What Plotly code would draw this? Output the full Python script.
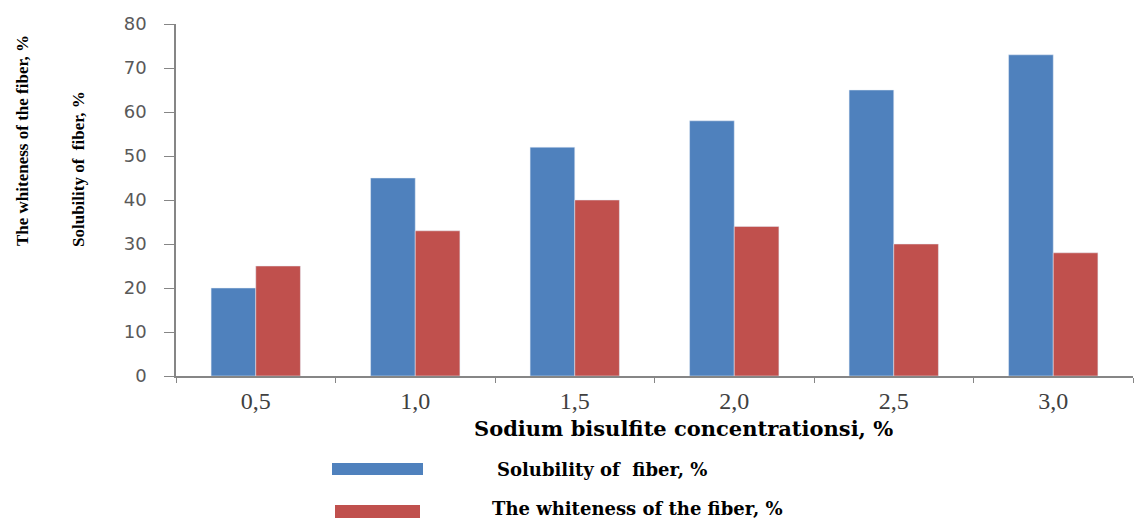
import plotly.graph_objects as go

categories = ["0,5", "1,0", "1,5", "2,0", "2,5", "3,0"]
solubility = [20, 45, 52, 58, 65, 73]
whiteness = [25, 33, 40, 34, 30, 28]
series_names = ["Solubility of  fiber, %", "The whiteness of the fiber, %"]
y_ticks = [0, 10, 20, 30, 40, 50, 60, 70, 80]

# page body has an 8px default margin; compensate
OFF = 8
W, H = 1144 - OFF, 519 - OFF
L, R, T, B = 176 - OFF, 11, 24 - OFF, 143
pw, ph = W - L - R, H - T - B

def px_x(x):
    return (x - OFF - L) / pw

def px_y(y):
    return (H - B - (y - OFF)) / ph

BLUE = "#4F81BD"
RED = "#C0504D"

fig = go.Figure()
fig.add_trace(go.Bar(x=categories, y=solubility, name=series_names[0], marker_color=BLUE))
fig.add_trace(go.Bar(x=categories, y=whiteness, name=series_names[1], marker_color=RED))

fig.update_layout(
    width=W, height=H,
    margin=dict(l=L, r=R, t=T, b=B, autoexpand=False),
    plot_bgcolor="white", paper_bgcolor="white",
    barmode="group", bargap=0.44, bargroupgap=0,
    showlegend=False,
    xaxis=dict(
        showline=True, linecolor="#868686", linewidth=1.5,
        ticks="outside", ticklen=5, tickcolor="#868686", tickson="boundaries",
        ticklabelstandoff=2,
        tickfont=dict(family="Liberation Serif", size=24, color="#404040"),
        showgrid=False,
    ),
    yaxis=dict(
        range=[0, 80], tickvals=y_ticks,
        showline=True, linecolor="#868686", linewidth=1.5,
        ticks="outside", ticklen=10, tickcolor="#868686",
        ticklabelstandoff=14,
        tickfont=dict(family="DejaVu Sans", size=18, color="#595959"),
        showgrid=False, zeroline=False,
    ),
)

annots = [
    dict(text="<b>Sodium bisulfite concentrationsi, %</b>", x=px_x(683), y=px_y(428),
         font=dict(family="DejaVu Serif", size=21, color="black")),
    dict(text="<b>The whiteness of the fiber, %</b>", x=px_x(22), y=px_y(141), textangle=-90,
         font=dict(family="Liberation Serif", size=17, color="black")),
    dict(text="<b>Solubility of  fiber, %</b>", x=px_x(78), y=px_y(169), textangle=-90,
         font=dict(family="Liberation Serif", size=17, color="black")),
    dict(text="<b>" + series_names[0] + "</b>", x=px_x(495), y=px_y(469), xanchor="left",
         font=dict(family="DejaVu Serif", size=18, color="black")),
    dict(text="<b>" + series_names[1] + "</b>", x=px_x(490), y=px_y(508), xanchor="left",
         font=dict(family="DejaVu Serif", size=18, color="black")),
]
for a in annots:
    a.setdefault("xanchor", "center")
    fig.add_annotation(xref="paper", yref="paper", showarrow=False, yanchor="middle", **a)

fig.add_shape(type="rect", xref="paper", yref="paper", x0=px_x(332), x1=px_x(423),
              y0=px_y(463), y1=px_y(475), fillcolor=BLUE, line_width=0)
fig.add_shape(type="rect", xref="paper", yref="paper", x0=px_x(335), x1=px_x(420),
              y0=px_y(505), y1=px_y(518), fillcolor=RED, line_width=0)

fig.write_html("out.html")
